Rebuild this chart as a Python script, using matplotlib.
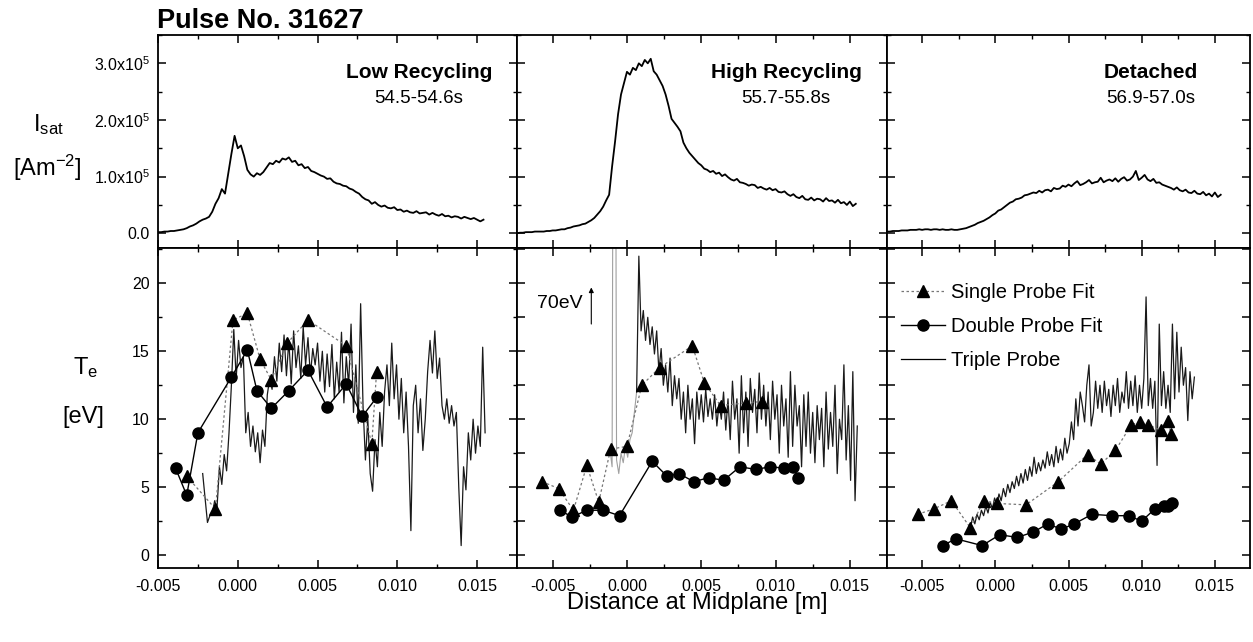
import matplotlib
matplotlib.use("Agg")
import matplotlib.pyplot as plt
from matplotlib.ticker import MultipleLocator, FuncFormatter
from matplotlib.lines import Line2D
import numpy as np

plt.rcParams['font.family'] = 'Liberation Sans'
plt.rcParams['mathtext.fontset'] = 'custom'
plt.rcParams['mathtext.rm'] = 'Liberation Sans'
plt.rcParams['mathtext.it'] = 'Liberation Sans:italic'
plt.rcParams['mathtext.bf'] = 'Liberation Sans:bold'
plt.rcParams['axes.unicode_minus'] = False

# ---- data ----
titles = ['Low Recycling', 'High Recycling', 'Detached']
times = ['54.5-54.6s', '55.7-55.8s', '56.9-57.0s']

# Isat traces (units of 1e5 A m^-2), sampled every 0.0002 m
isat_start = [-0.0050, -0.0074, -0.0074]
isat_step = 0.0002
isat_low = [0.02, 0.02, 0.03, 0.03, 0.04, 0.04, 0.05, 0.06, 0.07, 0.09, 0.12, 0.14, 0.17, 0.21,
            0.24, 0.26, 0.29, 0.38, 0.52, 0.62, 0.78, 0.70, 1.05, 1.40, 1.72, 1.50, 1.55, 1.36,
            1.12, 1.04, 1.00, 1.06, 1.03, 1.08, 1.16, 1.24, 1.22, 1.28, 1.25, 1.32, 1.30, 1.34,
            1.26, 1.28, 1.20, 1.22, 1.15, 1.17, 1.10, 1.08, 1.05, 1.02, 1.00, 0.96, 0.97, 0.91,
            0.88, 0.87, 0.84, 0.83, 0.79, 0.77, 0.73, 0.70, 0.64, 0.60, 0.58, 0.52, 0.55, 0.50,
            0.47, 0.49, 0.45, 0.44, 0.46, 0.41, 0.42, 0.38, 0.40, 0.37, 0.36, 0.39, 0.35, 0.36,
            0.37, 0.33, 0.36, 0.33, 0.31, 0.34, 0.30, 0.31, 0.28, 0.30, 0.29, 0.26, 0.29, 0.27,
            0.25, 0.27, 0.24, 0.21, 0.24]
isat_high = [0.00, 0.01, 0.01, 0.02, 0.02, 0.02, 0.03, 0.03, 0.03, 0.03, 0.04, 0.04, 0.05, 0.05,
             0.06, 0.07, 0.07, 0.09, 0.10, 0.12, 0.13, 0.14, 0.16, 0.17, 0.20, 0.23, 0.27, 0.33,
             0.39, 0.47, 0.58, 0.68, 1.18, 1.62, 2.10, 2.45, 2.65, 2.85, 2.80, 2.92, 2.88, 3.00,
             2.95, 3.06, 3.00, 3.08, 2.86, 2.80, 2.70, 2.60, 2.45, 2.25, 2.02, 1.95, 1.88, 1.80,
             1.60, 1.50, 1.42, 1.36, 1.30, 1.24, 1.20, 1.14, 1.12, 1.08, 1.10, 1.05, 1.07, 1.01,
             1.04, 0.99, 0.95, 0.93, 0.96, 0.90, 0.89, 0.87, 0.84, 0.86, 0.85, 0.80, 0.82, 0.79,
             0.77, 0.80, 0.76, 0.78, 0.73, 0.72, 0.74, 0.69, 0.66, 0.69, 0.64, 0.62, 0.66, 0.60,
             0.59, 0.63, 0.58, 0.61, 0.60, 0.56, 0.62, 0.57, 0.58, 0.54, 0.59, 0.53, 0.55, 0.50,
             0.56, 0.48, 0.52]
isat_det = [0.03, 0.03, 0.04, 0.04, 0.04, 0.05, 0.05, 0.05, 0.06, 0.06, 0.06, 0.07, 0.06, 0.07,
            0.07, 0.06, 0.07, 0.07, 0.06, 0.07, 0.06, 0.06, 0.07, 0.06, 0.06, 0.07, 0.08, 0.09,
            0.11, 0.13, 0.15, 0.18, 0.20, 0.22, 0.25, 0.28, 0.32, 0.35, 0.40, 0.42, 0.46, 0.50,
            0.54, 0.56, 0.60, 0.61, 0.63, 0.67, 0.68, 0.70, 0.72, 0.71, 0.75, 0.72, 0.76, 0.77,
            0.74, 0.80, 0.78, 0.79, 0.84, 0.82, 0.86, 0.83, 0.88, 0.92, 0.85, 0.87, 0.90, 0.94,
            0.88, 0.90, 0.91, 0.98, 0.90, 0.93, 0.95, 0.92, 0.97, 0.91, 0.96, 0.99, 0.93, 0.95,
            1.00, 1.10, 0.94, 0.98, 1.03, 0.95, 0.92, 0.96, 0.89, 0.90, 0.86, 0.84, 0.82, 0.80,
            0.77, 0.81, 0.76, 0.74, 0.77, 0.72, 0.71, 0.75, 0.70, 0.69, 0.73, 0.67, 0.70, 0.65,
            0.72, 0.64, 0.68]
isat_traces = [isat_low, isat_high, isat_det]

# Triple probe Te traces (eV), sampled every 0.00015 m
triple_start = [-0.0022, -0.00115, -0.0017]
triple_step = 0.00015
triple_low = [6.0, 4.2, 2.4, 2.9, 3.0, 4.0, 3.5, 6.5, 5.2, 7.4, 6.2, 9.0, 12.5, 16.6, 13.0, 15.8,
              13.8, 14.6, 9.0, 10.5, 8.0, 9.5, 7.6, 9.0, 6.8, 9.2, 8.0, 11.8, 13.0, 12.2, 14.6,
              12.8, 15.6, 13.5, 16.2, 13.2, 15.8, 12.6, 16.5, 13.8, 15.4, 13.0, 16.8, 14.0, 16.0,
              13.2, 15.2, 14.0, 15.6, 12.8, 15.0, 12.0, 14.8, 12.4, 15.5, 11.5, 14.2, 12.0, 16.4,
              11.2, 14.6, 12.5, 17.0, 10.5, 14.0, 9.7, 18.5, 11.0, 7.0, 10.0, 6.0, 4.7, 8.5, 6.5,
              10.5, 8.0, 12.0, 14.0, 11.0, 15.6, 11.5, 14.0, 10.0, 13.0, 9.0, 12.0, 8.0, 1.8,
              11.0, 12.5, 9.0, 11.5, 7.7, 10.0, 13.5, 15.8, 13.4, 16.5, 13.0, 14.5, 11.0, 10.0,
              11.5, 9.7, 11.0, 9.5, 10.5, 5.0, 0.7, 6.5, 4.8, 9.0, 7.0, 10.0, 7.5, 9.5, 8.0,
              15.3, 9.0]
triple_high = [7.8, 6.5, 70.0, 7.0, 6.0, 7.5, 6.8, 8.0, 7.2, 8.5, 9.0, 10.5, 12.0, 22.0, 16.5,
               18.0, 15.8, 17.5, 15.5, 16.8, 14.8, 16.5, 13.5, 15.2, 12.5, 14.0, 12.0, 14.5,
               11.0, 13.2, 11.5, 13.0, 10.0, 12.0, 9.0, 12.5, 10.0, 11.5, 8.2, 12.0, 10.0, 11.8,
               9.8, 12.2, 10.2, 11.5, 10.0, 11.8, 9.5, 11.2, 10.0, 12.0, 9.2, 11.5, 8.5, 12.8,
               10.0, 11.5, 7.5, 13.2, 9.0, 12.0, 8.0, 13.0, 10.5, 12.2, 9.0, 13.4, 10.0, 12.5,
               9.5, 12.0, 8.5, 12.8, 10.0, 11.8, 7.5, 12.5, 9.5, 11.5, 7.2, 13.5, 8.0, 12.5, 9.5,
               11.0, 6.5, 11.8, 8.0, 12.0, 7.5, 10.5, 6.8, 11.0, 8.5, 10.8, 6.5, 12.0, 7.8, 10.5,
               8.0, 12.5, 6.0, 10.0, 8.5, 14.0, 7.0, 11.0, 5.5, 13.5, 4.0, 9.5]
triple_det = [2.0, 2.8, 2.3, 3.0, 2.6, 3.3, 2.9, 3.6, 3.1, 3.9, 3.4, 4.2, 3.7, 4.5, 4.0, 4.9,
              4.3, 5.2, 4.6, 5.4, 4.9, 5.8, 5.1, 6.0, 5.3, 6.3, 5.5, 6.5, 5.8, 7.2, 6.0, 6.8, 6.2,
              7.0, 6.4, 7.6, 6.6, 7.4, 6.5, 8.0, 6.8, 7.8, 7.0, 8.6, 7.5, 8.2, 9.8, 8.5, 11.5,
              9.5, 12.0, 11.0, 9.8, 12.5, 14.0, 9.5, 10.5, 12.8, 10.8, 12.5, 10.5, 12.8, 11.0,
              12.2, 10.2, 12.5, 11.0, 13.0, 10.5, 12.0, 11.2, 13.5, 10.8, 12.8, 11.0, 13.2, 10.5,
              12.5, 10.8, 13.0, 19.0, 11.0, 13.0, 10.8, 12.8, 6.6, 17.0, 11.0, 13.5, 10.8, 12.5,
              10.5, 17.0, 11.5, 16.4, 12.0, 15.3, 12.5, 13.8, 9.9, 13.5, 11.5, 13.1]
triple_traces = [triple_low, triple_high, triple_det]
# in the High Recycling panel the part before the jump is printed faint
faint_upto = [0, 13, 0]

# Single probe fit (triangles)
single_x = [[-0.0032, -0.0014, -0.0003, 0.0006, 0.0014, 0.0021, 0.0031, 0.0044, 0.0068, 0.0084, 0.0087],
            [-0.0057, -0.0046, -0.0036, -0.0027, -0.0019, -0.0011, 0.0000, 0.0010, 0.0022, 0.0044,
             0.0052, 0.0063, 0.0080, 0.0091],
            [-0.0053, -0.0042, -0.0030, -0.0017, -0.0008, 0.0001, 0.0021, 0.0043, 0.0063, 0.0072,
             0.0082, 0.0093, 0.0099, 0.0104, 0.0113, 0.0118, 0.0120]]
single_y = [[5.8, 3.4, 17.3, 17.8, 14.4, 12.9, 15.6, 17.3, 15.4, 8.2, 13.5],
            [5.4, 4.9, 3.3, 6.6, 3.9, 7.8, 8.0, 12.5, 13.8, 15.4, 12.7, 11.0, 11.2, 11.3],
            [3.0, 3.4, 4.0, 2.0, 4.0, 3.8, 3.7, 5.4, 7.4, 6.7, 7.7, 9.6, 9.8, 9.6, 9.2, 9.9, 8.9]]

# Double probe fit (circles)
double_x = [[-0.0039, -0.0032, -0.0025, -0.0004, 0.0006, 0.0012, 0.0021, 0.0032, 0.0044, 0.0056,
             0.0068, 0.0078, 0.0087],
            [-0.0045, -0.0037, -0.0027, -0.0016, -0.0005, 0.0017, 0.0027, 0.0035, 0.0045, 0.0055,
             0.0065, 0.0076, 0.0087, 0.0096, 0.0106, 0.0112, 0.0115],
            [-0.0036, -0.0027, -0.0009, 0.0003, 0.0015, 0.0026, 0.0036, 0.0045, 0.0054, 0.0066,
             0.0080, 0.0091, 0.0100, 0.0109, 0.0115, 0.0118, 0.0121]]
double_y = [[6.4, 4.4, 9.0, 13.1, 15.1, 12.1, 10.8, 12.1, 13.6, 10.9, 12.6, 10.2, 11.6],
            [3.3, 2.8, 3.3, 3.3, 2.9, 6.9, 5.8, 6.0, 5.4, 5.7, 5.5, 6.5, 6.3, 6.5, 6.4, 6.5, 5.7],
            [0.7, 1.2, 0.7, 1.5, 1.3, 1.7, 2.3, 1.9, 2.3, 3.0, 2.9, 2.9, 2.5, 3.4, 3.6, 3.6, 3.8]]

x_lims = [(-0.0050, 0.0175), (-0.0074, 0.0175), (-0.0074, 0.0174)]

# ---- figure ----
W, H = 1253, 642
fig = plt.figure(figsize=(W / 100, H / 100), dpi=100)

col_px = [(158, 517), (517, 887), (887, 1250)]
top_px = (35, 248)
bot_px = (248, 568)


def px_axes(xr, yr):
    return fig.add_axes([xr[0] / W, 1 - yr[1] / H, (xr[1] - xr[0]) / W, (yr[1] - yr[0]) / H])


def sci_fmt(v, pos):
    if abs(v) < 1e-9:
        return '0.0'
    return r'$\mathregular{%.1fx10^5}$' % v


def style(ax):
    for s in ax.spines.values():
        s.set_linewidth(1.3)
    ax.tick_params(which='both', direction='in', top=True, right=True, labelsize=11.5)
    ax.tick_params(which='major', length=6, width=1.1)
    ax.tick_params(which='minor', length=3, width=1.0)
    ax.tick_params(axis='x', pad=8)
    ax.tick_params(axis='y', pad=6)
    ax.xaxis.set_major_locator(MultipleLocator(0.005))
    ax.xaxis.set_minor_locator(MultipleLocator(0.0025))


for i in range(3):
    # top: Isat
    axt = px_axes(col_px[i], top_px)
    style(axt)
    xs = isat_start[i] + isat_step * np.arange(len(isat_traces[i]))
    axt.plot(xs, isat_traces[i], color='black', lw=1.3)
    axt.set_xlim(*x_lims[i])
    axt.set_ylim(-0.26, 3.5)
    axt.yaxis.set_major_locator(MultipleLocator(1.0))
    axt.yaxis.set_minor_locator(MultipleLocator(0.5))
    axt.xaxis.set_ticklabels([])
    if i == 0:
        axt.yaxis.set_major_formatter(FuncFormatter(sci_fmt))
    else:
        axt.yaxis.set_ticklabels([])
    axt.text(0.727, 0.826, titles[i], transform=axt.transAxes, ha='center', va='center',
             fontsize=15, fontweight='bold')
    axt.text(0.727, 0.704, times[i], transform=axt.transAxes, ha='center', va='center',
             fontsize=13.5)

    # bottom: Te
    axb = px_axes(col_px[i], bot_px)
    style(axb)
    xt = triple_start[i] + triple_step * np.arange(len(triple_traces[i]))
    yt = np.array(triple_traces[i])
    k = faint_upto[i]
    if k:
        axb.plot(xt[:k], yt[:k], color='#a0a0a0', lw=0.8, zorder=2)
        axb.plot(xt[k - 1:], yt[k - 1:], color='#1a1a1a', lw=0.9, zorder=2)
    else:
        axb.plot(xt, yt, color='#1a1a1a', lw=0.9, zorder=2)
    axb.plot(single_x[i], single_y[i], color='#777777', lw=0.9, ls=(0, (2, 2)),
             marker='^', ms=8, mfc='black', mec='black', zorder=3)
    axb.plot(double_x[i], double_y[i], color='black', lw=1.0, ls='-',
             marker='o', ms=8, mfc='black', mec='black', zorder=3)
    axb.set_xlim(*x_lims[i])
    axb.set_ylim(-0.95, 22.6)
    axb.xaxis.set_major_formatter(FuncFormatter(lambda v, p: '%.3f' % v))
    if i == 0:
        axb.yaxis.set_major_locator(MultipleLocator(5))
        axb.yaxis.set_minor_locator(MultipleLocator(2.5))
    else:
        axb.yaxis.set_major_locator(MultipleLocator(2.5))
        axb.yaxis.set_ticklabels([])

    if i == 1:
        axb.text(-0.0030, 18.5, '70eV', ha='right', va='center', fontsize=14)
        axb.annotate('', xy=(-0.0024, 19.9), xytext=(-0.0024, 16.8),
                     arrowprops=dict(arrowstyle='-|>', lw=0.8, color='black', mutation_scale=7))
    if i == 2:
        handles = [Line2D([], [], color='#777777', lw=0.9, ls=(0, (2, 2)), marker='^', ms=8,
                          mfc='black', mec='black'),
                   Line2D([], [], color='black', lw=1.0, marker='o', ms=8, mfc='black', mec='black'),
                   Line2D([], [], color='black', lw=0.9)]
        axb.legend(handles, ['Single Probe Fit', 'Double Probe Fit', 'Triple Probe'],
                   loc='upper left', bbox_to_anchor=(0.0, 0.935), frameon=False, fontsize=14.5,
                   handlelength=2.2, handletextpad=0.3, labelspacing=0.75, borderaxespad=0.3)

fig.text(157 / W, 1 - 34 / H, 'Pulse No. 31627', fontsize=19.5, fontweight='bold', ha='left', va='bottom')
fig.text(48 / W, 1 - 125 / H, r'I$_{\mathregular{sat}}$', fontsize=17, ha='center', va='center')
fig.text(47 / W, 1 - 168 / H, r'[Am$^{\mathregular{-2}}$]', fontsize=17, ha='center', va='center')
fig.text(86 / W, 1 - 368 / H, r'T$_{\mathregular{e}}$', fontsize=17, ha='center', va='center')
fig.text(83 / W, 1 - 417 / H, '[eV]', fontsize=17, ha='center', va='center')
fig.text(697 / W, 1 - 609 / H, 'Distance at Midplane [m]', fontsize=17, ha='center', va='baseline')

fig.savefig('out.png', dpi=100)
